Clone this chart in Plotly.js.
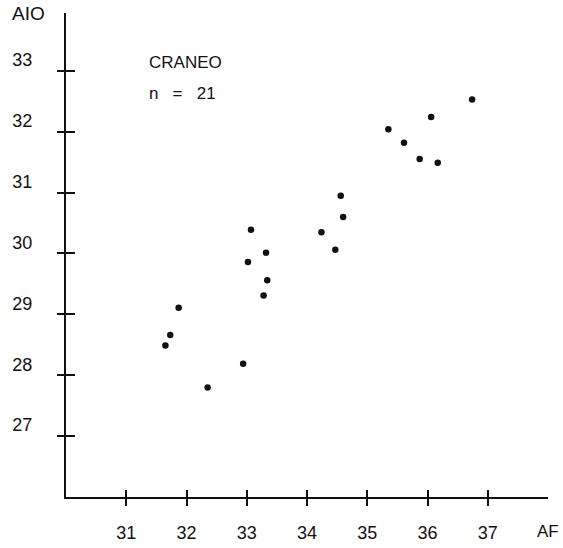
<!DOCTYPE html>
<html>
<head>
<meta charset="utf-8">
<script src="https://cdn.plot.ly/plotly-3.0.1.min.js"></script>
<style>html,body{margin:0;padding:0;background:#fff;}#chart{width:563px;height:548px;}</style>
</head>
<body>
<div id="chart"></div>
<script>
// Data (AF vs AIO, CRANEO n = 21)
const af  = [31.65, 31.73, 31.87, 32.35, 32.94, 33.02, 33.07, 33.28, 33.32, 33.34,
             34.24, 34.47, 34.56, 34.60, 35.35, 35.61, 35.87, 36.06, 36.17, 36.74];
const aio = [28.49, 28.66, 29.11, 27.80, 28.19, 29.86, 30.39, 29.31, 30.01, 29.56,
             30.35, 30.06, 30.95, 30.60, 32.04, 31.82, 31.55, 32.24, 31.49, 32.53];
const xTicks = [31, 32, 33, 34, 35, 36, 37];
const yTicks = [27, 28, 29, 30, 31, 32, 33];
const xLabel = "AF";
const yLabel = "AIO";
const groupLabel = "CRANEO";
const nLabel = "n\u00a0\u00a0\u00a0=\u00a0\u00a0\u00a021";

const ink = "#111";
const fontFam = "'Liberation Sans', Arial, Helvetica, sans-serif";

const traces = [
  {x: af, y: aio, type: "scatter", mode: "markers",
   marker: {color: ink, size: 6.5}, hoverinfo: "x+y"},
  {x: [], y: [], xaxis: "x2", yaxis: "y2", type: "scatter", mode: "markers", showlegend: false}
];

const common = {showgrid: false, zeroline: false, fixedrange: true};
const layout = {
  width: 563, height: 548,
  margin: {l: 66, r: 15, t: 13, b: 51},
  paper_bgcolor: "#fff", plot_bgcolor: "#fff",
  showlegend: false,
  font: {family: fontFam, size: 18, color: ink},
  xaxis: Object.assign({}, common, {
    range: [30, 38], tickvals: xTicks, ticktext: xTicks.map(String),
    ticks: "outside", ticklen: 7, tickwidth: 2, tickcolor: ink,
    showline: true, linewidth: 2, linecolor: ink,
    ticklabelstandoff: 11, tickfont: {size: 18, color: ink}
  }),
  yaxis: Object.assign({}, common, {
    range: [26, 33.95], tickvals: yTicks, ticktext: yTicks.map(String),
    ticks: "outside", ticklen: 7, tickwidth: 2, tickcolor: ink,
    showline: true, linewidth: 2, linecolor: ink,
    ticklabelstandoff: 21, ticklabelshift: -11, tickfont: {size: 18, color: ink}
  }),
  xaxis2: Object.assign({}, common, {
    range: [30, 38], tickvals: xTicks, overlaying: "x", anchor: "y2", side: "bottom",
    ticks: "inside", ticklen: 7, tickwidth: 2, tickcolor: ink,
    showline: false, showticklabels: false
  }),
  yaxis2: Object.assign({}, common, {
    range: [26, 33.95], tickvals: yTicks, overlaying: "y", anchor: "x2", side: "left",
    ticks: "inside", ticklen: 9, tickwidth: 2, tickcolor: ink,
    showline: false, showticklabels: false
  }),
  annotations: [
    {text: yLabel, xref: "paper", yref: "paper", x: -0.078, y: 1.0, xanchor: "center", yanchor: "middle",
     showarrow: false, font: {size: 19, color: ink}},
    {text: xLabel, xref: "paper", yref: "paper", x: 1.0, y: -0.072, xanchor: "center", yanchor: "middle",
     showarrow: false, font: {size: 17, color: ink}},
    {text: groupLabel, xref: "x", yref: "y", x: 31.35, y: 33.14, xanchor: "left", yanchor: "middle",
     showarrow: false, font: {size: 17, color: ink}},
    {text: nLabel, xref: "x", yref: "y", x: 31.35, y: 32.63, xanchor: "left", yanchor: "middle",
     showarrow: false, font: {size: 17, color: ink}}
  ]
};

Plotly.newPlot("chart", traces, layout, {staticPlot: true, displayModeBar: false});
</script>
</body>
</html>
